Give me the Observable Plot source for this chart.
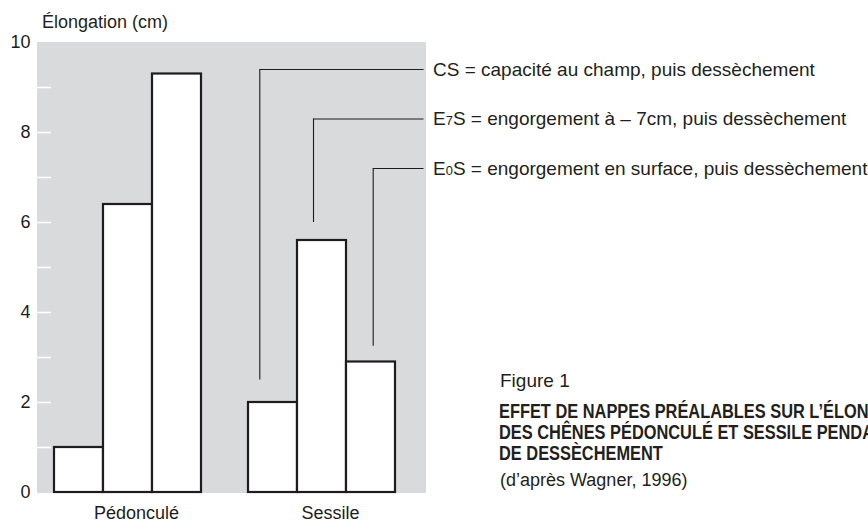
<!DOCTYPE html>
<html><head><meta charset="utf-8">
<script src="https://cdn.jsdelivr.net/npm/d3@7"></script>
<script src="https://cdn.jsdelivr.net/npm/@observablehq/plot@0.6"></script>
<style>
body{margin:0;background:#fff;overflow:hidden}
#wrap{position:relative;width:868px;height:522px;overflow:hidden;font-family:"Liberation Sans",Arial,Helvetica,sans-serif;color:#231f20}
#wrap svg{position:absolute;left:0;top:0}
.t{position:absolute;white-space:nowrap;line-height:1}
.sm{font-size:0.68em}
.title{font-weight:bold;font-size:21px;line-height:21px;transform:scaleX(0.78);transform-origin:0 0}
</style></head><body><div id="wrap"></div>
<script>
// ---- data ----
const species = ["Pédonculé", "Sessile"];
const treatments = ["CS", "E7S", "E0S"];
const pedonculeValues = [1.0, 6.4, 9.3];
const sessileValues = [2.0, 5.6, 2.9];
const yLabelTicks = [0, 2, 4, 6, 8, 10];
const yMinorTicks = [1, 2, 3, 4, 5, 6, 7, 8, 9];
const legendLabels = [
  "CS = capacité au champ, puis dessèchement",
  "E7S = engorgement à – 7cm, puis dessèchement",
  "E0S = engorgement en surface, puis dessèchement"
];
const leaderTop = [9.4, 8.3, 7.2];
const leaderBottom = [2.5, 6.0, 3.25];
const yLabel = "Élongation (cm)";
const figureLabel = "Figure 1";
const titleLines = [
  "EFFET DE NAPPES PRÉALABLES SUR L’ÉLONGATION",
  "DES CHÊNES PÉDONCULÉ ET SESSILE PENDANT LA PHASE",
  "DE DESSÈCHEMENT"
];
const credit = "(d’après Wagner, 1996)";

// ---- tables ----
const seriesBySpecies = {"Pédonculé": pedonculeValues, "Sessile": sessileValues};
const bars = species.flatMap(s => treatments.map((t, j) => ({species: s, treatment: t, value: seriesBySpecies[s][j]})));
const lastTreatment = treatments[treatments.length - 1];
const leaders = treatments.map((t, i) => ({species: "Sessile", treatment: t, last: lastTreatment, top: leaderTop[i], bottom: leaderBottom[i]}));

const ink = "#1e1c1d";
const panel = "#d9dadc";
const leaderDx = [-13.2, -8.5, 2.2];
const halfBand = 24.67;

const marks = [
  Plot.frame({fill: panel, stroke: panel, strokeWidth: 1, shapeRendering: "crispEdges"}),
  Plot.axisY({ticks: yMinorTicks, tickSize: -14, tickFormat: () => "", stroke: "white", strokeWidth: 1.6, label: null}),
  Plot.axisY({ticks: yLabelTicks, tickSize: 0, tickPadding: 7, fontSize: 18, fill: ink, label: null}),
  Plot.axisFx({anchor: "bottom", tickSize: 0, tickPadding: 14, fontSize: 18, fill: ink, label: null, dx: 2}),
  Plot.barY(bars, {fx: "species", x: "treatment", y: "value", fill: "white", stroke: ink, strokeWidth: 2.2})
];
leaders.forEach((d, i) => {
  marks.push(Plot.ruleX([d], {fx: "species", x: "treatment", y1: "bottom", y2: "top", dx: leaderDx[i], stroke: ink, strokeWidth: 1.1}));
  marks.push(Plot.ruleY([d], {fx: "species", y: "top", x1: "treatment", x2: "last", insetLeft: halfBand + leaderDx[i], insetRight: -28.5, stroke: ink, strokeWidth: 1.1}));
});

const plot = Plot.plot({
  width: 868,
  height: 522,
  marginLeft: 37,
  marginRight: 443,
  marginTop: 42,
  marginBottom: 30,
  style: {fontFamily: '"Liberation Sans", Arial, Helvetica, sans-serif', fontSize: "18px", background: "transparent", color: ink},
  fx: {domain: species, paddingInner: 0, paddingOuter: 0},
  x: {domain: treatments, paddingInner: 0, paddingOuter: 0.4663, align: 0.359, axis: null},
  y: {domain: [0, 10]},
  marks
});
const wrap = document.getElementById("wrap");
wrap.appendChild(plot);

const yScale = plot.scale("y");
function addText(html, left, top, cls, size) {
  const d = document.createElement("div");
  d.className = "t " + (cls || "");
  d.style.left = left + "px";
  d.style.top = top + "px";
  if (size) d.style.fontSize = size + "px";
  d.innerHTML = html;
  wrap.appendChild(d);
  return d;
}
addText(yLabel, 42, 13, "", 18);
legendLabels.forEach((s, i) => {
  const html = s.replace(/^E(\d)S/, 'E<span class="sm">$1</span>S');
  addText(html, 433, yScale.apply(leaderTop[i]) - 9.5, "", 19);
});
addText(figureLabel, 500, 371, "", 19);
titleLines.forEach((s, i) => addText(s, 499, 400 + i * 21, "title"));
addText(credit, 500, 471, "", 18);
</script></body></html>
